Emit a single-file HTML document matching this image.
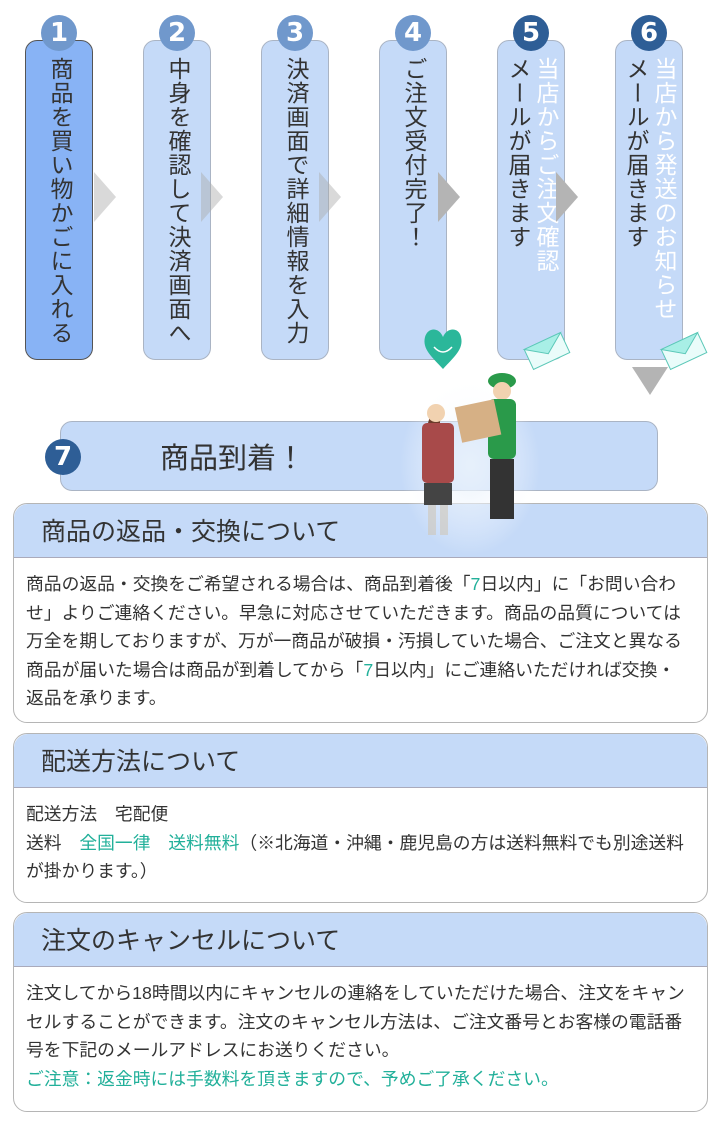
<!DOCTYPE html>
<html><head><meta charset="utf-8"><style>
*{margin:0;padding:0;box-sizing:border-box}
body{width:720px;height:1140px;background:#fff;position:relative;font-family:"Liberation Sans","Noto Sans CJK JP",sans-serif;color:#333;overflow:hidden}
.box{position:absolute;top:40px;width:68px;height:320px;background:#c5daf8;border:1px solid #aab4c4;border-radius:12px}
.box.a{background:#88b3f5;border-color:#555}
.vt{position:absolute;top:16px;writing-mode:vertical-rl;font-size:23px;line-height:28px;letter-spacing:1px;color:#333}
.w{color:#fff}
.num{position:absolute;top:15px;width:36px;height:36px;border-radius:50%;background:#7098cc;color:#fff;font-weight:bold;font-size:26px;text-align:center;line-height:36px;font-family:"DejaVu Sans",sans-serif}
.num.d{background:#2e5e96}
.arr{position:absolute;top:172px;width:0;height:0;border-top:25px solid transparent;border-bottom:25px solid transparent;border-left:22px solid rgba(170,170,170,.45)}
.arr.g{border-left-color:#b4b4b4}
.sec{position:absolute;left:13px;width:695px;border:1px solid #b5b5b5;border-radius:14px;background:#fff;overflow:hidden}
.hd{height:54px;background:#c5daf8;border-bottom:1px solid #aab;border-radius:14px 14px 0 0;font-size:25px;line-height:56px;padding-left:27px;color:#333}
.bd{padding:12px 16px 0 12px;font-size:17.8px;line-height:28.5px;color:#333}
.g{color:#22b09a}
</style></head><body>
<div class="box a" style="left:25px"><div class="vt" style="left:20px">商品を買い物かごに入れる</div></div>
<div class="box" style="left:143px"><div class="vt" style="left:20px">中身を確認して決済画面へ</div></div>
<div class="box" style="left:261px"><div class="vt" style="left:20px">決済画面で詳細情報を入力</div></div>
<div class="box" style="left:379px"><div class="vt" style="left:20px">ご注文受付完了！</div></div>
<div class="box" style="left:497px"><div class="vt" style="left:6px"><span class="w">当店からご注文確認</span><br>メールが届きます</div></div>
<div class="box" style="left:615px"><div class="vt" style="left:6px"><span class="w">当店から発送のお知らせ</span><br>メールが届きます</div></div>
<div class="num" style="left:41px">1</div>
<div class="num" style="left:159px">2</div>
<div class="num" style="left:277px">3</div>
<div class="num" style="left:395px">4</div>
<div class="num d" style="left:513px">5</div>
<div class="num d" style="left:631px">6</div>
<div class="arr" style="left:94px"></div>
<div class="arr" style="left:201px"></div>
<div class="arr" style="left:319px"></div>
<div class="arr g" style="left:438px"></div>
<div class="arr g" style="left:556px"></div>
<div style="position:absolute;left:632px;top:367px;border-left:18px solid transparent;border-right:18px solid transparent;border-top:28px solid #b4b4b4"></div>
<svg style="position:absolute;left:422px;top:325px" width="42" height="45" viewBox="0 0 42 45"><path d="M21 44 C10 32 0 24 3 12 C6 2 17 2 21 12 C25 2 37 2 39 12 C42 24 32 32 21 44Z" fill="#2bb79a"/><path d="M12 22 Q21 32 30 22" stroke="#fff" stroke-width="1.5" fill="none"/></svg>
<svg style="position:absolute;left:522px;top:330px" width="50" height="42"><g transform="rotate(-25 25 21)"><rect x="5" y="10" width="40" height="22" fill="#eafcfa" stroke="#5cc8b8"/><path d="M5 10 L25 24 L45 10Z" fill="#a8efe6" stroke="#5cc8b8"/></g></svg>
<svg style="position:absolute;left:659px;top:330px" width="50" height="42"><g transform="rotate(-25 25 21)"><rect x="5" y="10" width="40" height="22" fill="#eafcfa" stroke="#5cc8b8"/><path d="M5 10 L25 24 L45 10Z" fill="#a8efe6" stroke="#5cc8b8"/></g></svg>
<div style="position:absolute;left:60px;top:421px;width:598px;height:70px;background:#c5daf8;border:1px solid #aab4c4;border-radius:12px"></div>
<div class="num d" style="left:45px;top:439px">7</div>
<div style="position:absolute;left:160px;top:435px;font-size:29px;color:#333">商品到着！</div>
<div class="sec" style="top:503px;height:220px"><div class="hd">商品の返品・交換について</div>
<div class="bd">商品の返品・交換をご希望される場合は、商品到着後「<span class="g">7</span>日以内」に「お問い合わせ」よりご連絡ください。早急に対応させていただきます。商品の品質については万全を期しておりますが、万が一商品が破損・汚損していた場合、ご注文と異なる商品が届いた場合は商品が到着してから「<span class="g">7</span>日以内」にご連絡いただければ交換・返品を承ります。</div></div>
<div class="sec" style="top:733px;height:170px"><div class="hd">配送方法について</div>
<div class="bd">配送方法　宅配便<br>送料　<span class="g">全国一律　送料無料</span>（※北海道・沖縄・鹿児島の方は送料無料でも別途送料が掛かります。）</div></div>
<div class="sec" style="top:912px;height:200px"><div class="hd">注文のキャンセルについて</div>
<div class="bd">注文してから18時間以内にキャンセルの連絡をしていただけた場合、注文をキャンセルすることができます。注文のキャンセル方法は、ご注文番号とお客様の電話番号を下記のメールアドレスにお送りください。<br><span class="g">ご注意：返金時には手数料を頂きますので、予めご了承ください。</span></div></div>
<svg style="position:absolute;left:400px;top:365px" width="140" height="190">
<defs><radialGradient id="gl"><stop offset="0" stop-color="#e6f0fb"/><stop offset="1" stop-color="#fff" stop-opacity="0"/></radialGradient></defs>
<ellipse cx="70" cy="100" rx="70" ry="90" fill="url(#gl)"/>
<ellipse cx="102" cy="16" rx="14" ry="8" fill="#2a9a4a"/>
<circle cx="102" cy="26" r="9" fill="#f1d2b0"/>
<rect x="88" y="34" width="28" height="60" rx="6" fill="#2a9a4a"/>
<rect x="90" y="94" width="24" height="60" fill="#333"/>
<rect x="58" y="38" width="40" height="36" fill="#d6b085" transform="rotate(-12 78 56)"/>
<path d="M36 42 Q28 50 26 70 L24 75 L40 75 L40 50Z" fill="#6b3b2a"/>
<circle cx="36" cy="48" r="9" fill="#f1d2b0"/>
<rect x="22" y="58" width="32" height="60" rx="5" fill="#a84a4a"/>
<rect x="24" y="118" width="28" height="22" fill="#444"/>
<rect x="28" y="140" width="8" height="30" fill="#cfc6b8" opacity=".6"/>
<rect x="40" y="140" width="8" height="30" fill="#cfc6b8" opacity=".6"/>
</svg>
</body></html>
